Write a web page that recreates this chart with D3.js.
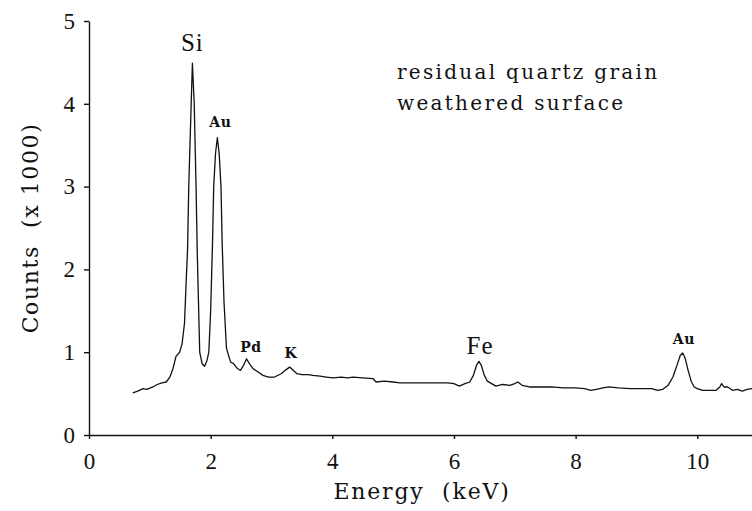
<!DOCTYPE html>
<html>
<head>
<meta charset="utf-8">
<script src="https://cdn.jsdelivr.net/npm/d3@7"></script>
<style>
  body { margin: 0; background: #fff; }
  text { font-family: "DejaVu Serif", "Liberation Serif", serif; fill: #111; white-space: pre; }
</style>
</head>
<body>
<svg></svg>
<script>
// EDS spectrum, residual quartz grain
var energy = [0.72, 0.80, 0.89, 0.95, 1.05, 1.12, 1.20, 1.27, 1.33, 1.38, 1.43, 1.49, 1.53, 1.57,
    1.60, 1.62, 1.64, 1.68, 1.70, 1.73, 1.76, 1.78, 1.82, 1.86, 1.90, 1.94, 1.97, 2.00, 2.03, 2.05,
    2.08, 2.11, 2.14, 2.17, 2.19, 2.22, 2.26, 2.29, 2.33, 2.38, 2.43, 2.49, 2.54, 2.59, 2.64, 2.70,
    2.78, 2.86, 2.95, 3.05, 3.16, 3.24, 3.30, 3.36, 3.42, 3.50, 3.60, 3.68, 3.80, 3.90, 4.01, 4.15,
    4.25, 4.34, 4.50, 4.67, 4.72, 4.85, 5.00, 5.11, 5.40, 5.71, 5.90, 6.00, 6.09, 6.18, 6.26, 6.32,
    6.37, 6.41, 6.45, 6.50, 6.55, 6.62, 6.69, 6.80, 6.92, 7.00, 7.05, 7.12, 7.24, 7.40, 7.60, 7.80,
    8.00, 8.15, 8.25, 8.34, 8.45, 8.55, 8.70, 8.90, 9.10, 9.25, 9.35, 9.43, 9.52, 9.60, 9.67, 9.72,
    9.76, 9.80, 9.85, 9.90, 9.95, 10.00, 10.09, 10.20, 10.31, 10.37, 10.40, 10.44, 10.50, 10.58,
    10.66, 10.74, 10.82, 10.90];
var counts = [0.51, 0.53, 0.56, 0.55, 0.58, 0.61, 0.63, 0.64, 0.70, 0.80, 0.95, 1.00, 1.10, 1.35,
    1.90, 2.23, 3.00, 4.00, 4.49, 4.00, 3.00, 2.20, 1.00, 0.86, 0.83, 0.90, 1.00, 1.50, 2.30, 3.00,
    3.40, 3.59, 3.40, 3.00, 2.30, 1.60, 1.05, 0.97, 0.88, 0.86, 0.81, 0.78, 0.84, 0.92, 0.86, 0.80,
    0.76, 0.72, 0.70, 0.70, 0.74, 0.79, 0.82, 0.78, 0.74, 0.73, 0.73, 0.72, 0.71, 0.70, 0.69, 0.70,
    0.69, 0.70, 0.69, 0.68, 0.64, 0.65, 0.64, 0.63, 0.63, 0.63, 0.63, 0.62, 0.59, 0.62, 0.64, 0.72,
    0.84, 0.89, 0.84, 0.72, 0.65, 0.62, 0.59, 0.61, 0.60, 0.62, 0.64, 0.60, 0.58, 0.58, 0.58, 0.57,
    0.57, 0.56, 0.54, 0.55, 0.57, 0.58, 0.57, 0.56, 0.56, 0.56, 0.54, 0.55, 0.60, 0.70, 0.85, 0.96,
    0.99, 0.93, 0.78, 0.65, 0.58, 0.56, 0.54, 0.54, 0.54, 0.58, 0.62, 0.58, 0.58, 0.54,
    0.55, 0.53, 0.55, 0.56];

var xTicks = [0, 2, 4, 6, 8, 10];
var yTicks = [0, 1, 2, 3, 4, 5];

var peakNames = ["Si", "Au", "Pd", "K", "Fe", "Au"];
var peakEnergy = [1.70, 2.16, 2.66, 3.32, 6.43, 9.78];
var peakCounts = [4.64, 3.72, 1.00, 0.93, 0.98, 1.10];
var peakSize = ["big", "small", "small", "small", "big", "small"];

var note = ["residual quartz grain", "weathered surface"];

var svgWidth = 752,
    svgHeight = 511;

var svg = d3.select("svg")
    .attr("width", svgWidth)
    .attr("height", svgHeight);

var xScale = d3.scaleLinear()
    .domain([0, 10.9])
    .range([89, 752]);

var yScale = d3.scaleLinear()
    .domain([0, 5])
    .range([435, 21]);

// axes
var xAxis = d3.axisBottom(xScale).tickValues(xTicks).tickFormat(d3.format("d"))
    .tickSize(4).tickSizeOuter(0).tickPadding(14);
var yAxis = d3.axisLeft(yScale).tickValues(yTicks).tickFormat(d3.format("d"))
    .tickSize(5).tickSizeOuter(0).tickPadding(9);

var gx = svg.append("g")
    .attr("transform", "translate(0," + yScale(0) + ")")
    .call(xAxis);
var gy = svg.append("g")
    .attr("transform", "translate(" + xScale(0) + ",0)")
    .call(yAxis);

[gx, gy].forEach(function(g) {
    g.selectAll("path, line").attr("stroke", "#111").attr("stroke-width", 1.4);
    g.selectAll("text")
        .style("font-family", "'Liberation Serif', serif")
        .style("font-size", "23px")
        .attr("fill", "#111");
});

// spectrum
var line = d3.line()
    .x(function(d, i) { return xScale(energy[i]); })
    .y(function(d) { return yScale(d); });

svg.append("path")
    .datum(counts)
    .attr("d", line)
    .attr("fill", "none")
    .attr("stroke", "#111")
    .attr("stroke-width", 1.3)
    .attr("stroke-linejoin", "round");

// peak labels
svg.selectAll(".peak")
    .data(peakNames)
    .enter()
    .append("text")
    .attr("class", "peak")
    .attr("text-anchor", "middle")
    .attr("x", function(d, i) { return xScale(peakEnergy[i]); })
    .attr("y", function(d, i) { return yScale(peakCounts[i]); })
    .style("font-family", function(d, i) {
        return peakSize[i] == "big" ? "'Liberation Serif', serif" : "'DejaVu Serif', serif";
    })
    .style("font-size", function(d, i) { return peakSize[i] == "big" ? "25px" : "14px"; })
    .style("font-weight", function(d, i) { return peakSize[i] == "big" ? "normal" : "bold"; })
    .style("letter-spacing", function(d, i) { return peakSize[i] == "big" ? "1px" : "0.5px"; })
    .text(function(d) { return d; });

// annotation
svg.selectAll(".note")
    .data(note)
    .enter()
    .append("text")
    .attr("class", "note")
    .attr("x", 397)
    .attr("y", function(d, i) { return 79 + i * 31; })
    .style("font-size", "20px")
    .style("letter-spacing", "2.3px")
    .text(function(d) { return d; });

// axis titles
svg.append("text")
    .attr("x", 422)
    .attr("y", 499)
    .attr("text-anchor", "middle")
    .style("font-size", "22px")
    .style("letter-spacing", "1.8px")
    .text("Energy  (keV)");

svg.append("text")
    .attr("transform", "translate(38,228) rotate(-90)")
    .attr("text-anchor", "middle")
    .style("font-size", "22px")
    .style("letter-spacing", "1.6px")
    .text("Counts  (x 1000)");
</script>
</body>
</html>
